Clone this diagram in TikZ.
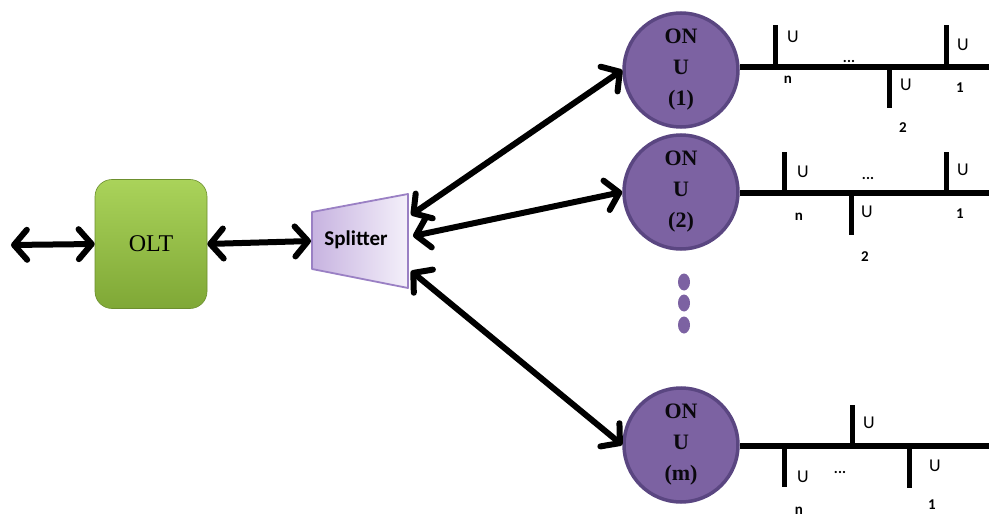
\documentclass[tikz,border=0pt]{standalone}
\usepackage{fontspec}
\setmainfont{Liberation Serif}
\newfontfamily\carlito{Carlito}
\usetikzlibrary{arrows.meta,shapes.geometric}

\definecolor{oltTop}{HTML}{AAD35A}
\definecolor{oltBot}{HTML}{7FA836}
\definecolor{splitL}{HTML}{C7B3E0}
\definecolor{splitR}{HTML}{F4F0FA}
\definecolor{splitEdge}{HTML}{9A80C4}
\definecolor{onuFill}{HTML}{7C62A2}
\definecolor{onuEdge}{HTML}{5A4681}

\begin{document}
\begin{tikzpicture}[x=1pt,y=-1pt,
  barb/.tip={Straight Barb[length=13pt,width=30pt,round]},
  link/.style={line width=6pt, line cap=round, barb-barb},
  onu/.style={circle, fill=onuFill, draw=onuEdge, line width=3.5pt,
    minimum size=114pt, inner sep=0pt, align=center,
    font=\bfseries\fontsize{22}{31}\selectfont, text=black!92!onuFill},
  bus/.style={line width=6pt},
  tap/.style={line width=5pt},
  ulabel/.style={font=\carlito\fontsize{18}{18}\selectfont, inner sep=0pt},
  idx/.style={font=\carlito\bfseries\fontsize{15}{15}\selectfont, inner sep=0pt},
  dot/.style={ellipse, fill=onuFill, minimum width=12pt, minimum height=17pt, inner sep=0pt}
]
\useasboundingbox (0,0) rectangle (989,519);

% ---- optical line terminal ----
\node[rounded corners=17pt, minimum width=112pt, minimum height=129pt,
      top color=oltTop, bottom color=oltBot, draw=oltBot!85!black, line width=0.6pt,
      font=\fontsize{24}{24}\selectfont] (olt) at (151,244) {OLT};

% ---- passive splitter (trapezoid) ----
\coordinate (sLT) at (312,212);
\coordinate (sLB) at (312,269);
\coordinate (sRT) at (408,194);
\coordinate (sRB) at (408,288);
\path[left color=splitL, right color=splitR] (sLT) -- (sRT) -- (sRB) -- (sLB) -- cycle;
\draw[splitEdge, line width=1.8pt, line join=round] (sLT) -- (sRT) -- (sRB) -- (sLB) -- cycle;
\node[font=\carlito\bfseries\fontsize{21}{21}\selectfont] (split) at (356,240) {Splitter};
\coordinate (spIn) at (311,241);
\coordinate (sp1) at (411,215);
\coordinate (sp2) at (413,236);
\coordinate (sp3) at (411,271);

% ---- optical network units ----
\node[onu] (onu1) at (681,70) {ON\\U\\(1)};
\node[onu] (onu2) at (681,192) {ON\\U\\(2)};
\node[onu] (onum) at (681,445) {ON\\U\\(m)};

\node[dot] (d1) at (684,282) {};
\node[dot] (d2) at (684,303) {};
\node[dot] (d3) at (684,325) {};

% ---- links ----
\coordinate (feed) at (11,245);
\draw[link] (feed) -- (olt.west);
\draw[link] (olt.east) -- (spIn);
\draw[link] (sp1) -- (onu1.west);
\draw[link] (sp2) -- (onu2.west);
\draw[link] (sp3) -- (onum.west);

% ---- user buses ----
\coordinate (b1) at (989,67);
\coordinate (b2) at (989,193);
\coordinate (bm) at (989,446);
\draw[bus] (onu1.east |- b1) -- (b1);
\draw[bus] (onu2.east |- b2) -- (b2);
\draw[bus] (onum.east |- bm) -- (bm);

% taps of ONU (1)
\draw[tap] (775,67) -- (775,25);
\draw[tap] (889,67) -- (889,108);
\draw[tap] (946,67) -- (946,25);
\node[ulabel] (u1n) at (793,37) {U};
\node[idx]    (i1n) at (788,80) {n};
\node[idx]    (e1)  at (849,61) {...};
\node[ulabel] (u12) at (906,85) {U};
\node[idx]    (i12) at (903,128) {2};
\node[ulabel] (u11) at (963,45) {U};
\node[idx]    (i11) at (960,88) {1};

% taps of ONU (2)
\draw[tap] (784,193) -- (784,152);
\draw[tap] (851,193) -- (851,235);
\draw[tap] (946,193) -- (946,152);
\node[ulabel] (u2n) at (803,172) {U};
\node[idx]    (i2n) at (799,217) {n};
\node[idx]    (e2)  at (868,178) {...};
\node[ulabel] (u22) at (867,212) {U};
\node[idx]    (i22) at (865,257) {2};
\node[ulabel] (u21) at (963,170) {U};
\node[idx]    (i21) at (960,214) {1};

% taps of ONU (m)
\draw[tap] (784,446) -- (784,487);
\draw[tap] (852,446) -- (852,405);
\draw[tap] (909,446) -- (909,488);
\node[ulabel] (umn) at (803,477) {U};
\node[idx]    (imn) at (799,511) {n};
\node[idx]    (em)  at (840,472) {...};
\node[ulabel] (um2) at (869,423) {U};
\node[ulabel] (um1) at (935,466) {U};
\node[idx]    (im1) at (932,505) {1};
\end{tikzpicture}
\end{document}
